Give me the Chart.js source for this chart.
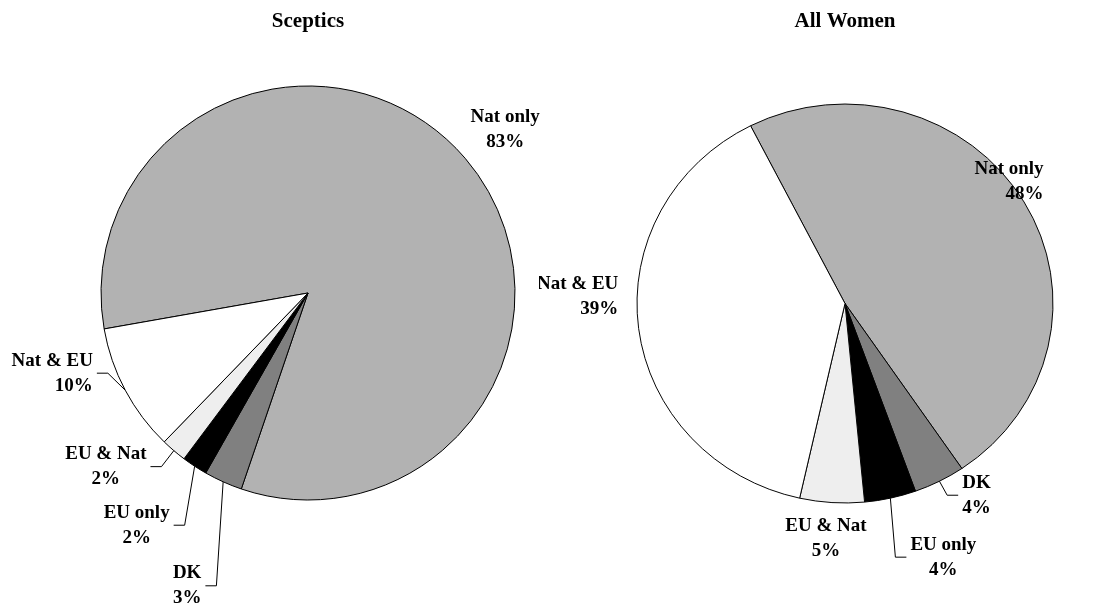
<!DOCTYPE html>
<html>
<head>
<meta charset="utf-8">
<script src="https://cdn.jsdelivr.net/npm/chart.js@4/dist/chart.umd.min.js"></script>
<style>
    body { margin: 0; background: #fff; width: 1104px; height: 608px; overflow: hidden; position: relative; }
    canvas { position: absolute; top: 0; }
    #scepticsChart { left: 0; }
    #womenChart { left: 539px; }
</style>
</head>
<body>
<canvas id="scepticsChart" width="545" height="608"></canvas>
<canvas id="womenChart" width="565" height="608"></canvas>
<script>
// data
const categories = ["Nat only", "DK", "EU only", "EU & Nat", "Nat & EU"];
const scepticsValues = [83, 3, 2, 2, 10];
const allWomenValues = [48, 4, 4, 5, 39];
const chartTitles = ["Sceptics", "All Women"];

const sliceColors = ["#b2b2b2", "#808080", "#000000", "#eeeeee", "#ffffff"];
const fontFamily = "'Liberation Serif', 'Times New Roman', serif";

// label placement, offset from the slice's outer edge at its mid angle
const scepticsLabelLayout = [
    { dx: 40, dy: -29, align: "center", leader: false },
    { dx: -36, dy: 104, align: "center", leader: true },
    { dx: -58, dy: 59, align: "center", leader: true },
    { dx: -68, dy: 16, align: "center", leader: true },
    { dx: -73, dy: -17, align: "right", leader: true }
];
const womenLabelLayout = [
    { dx: -15, dy: -20, align: "right", leader: false },
    { dx: 37, dy: 14, align: "center", leader: true },
    { dx: 53, dy: 59, align: "center", leader: true },
    { dx: -6, dy: 36, align: "center", leader: false },
    { dx: -61, dy: -32, align: "right", leader: false }
];

// the original pies are slightly squashed, this stretches them vertically
const ellipsePlugin = {
    id: "ellipse",
    beforeDatasetsDraw(chart, args, opts) {
        const p = chart.getDatasetMeta(0).data[0];
        chart.ctx.save();
        chart.ctx.translate(p.x, p.y);
        chart.ctx.scale(1, opts.scaleY);
        chart.ctx.translate(-p.x, -p.y);
    },
    afterDatasetsDraw(chart) {
        chart.ctx.restore();
    }
};

const pieLabelsPlugin = {
    id: "pieLabels",
    afterDraw(chart, args, opts) {
        const ctx = chart.ctx;
        const meta = chart.getDatasetMeta(0);
        const values = chart.data.datasets[0].data;
        const scaleY = chart.options.plugins.ellipse.scaleY;
        const lineH = 25;
        ctx.save();

        // title
        const first = meta.data[0].getProps(["x", "y"], true);
        ctx.fillStyle = "#000";
        ctx.font = "bold 21px " + fontFamily;
        ctx.textAlign = "center";
        ctx.textBaseline = "middle";
        ctx.fillText(opts.title, first.x, 22);

        ctx.font = "bold 19px " + fontFamily;
        ctx.strokeStyle = "#000";
        ctx.lineWidth = 1;
        meta.data.forEach((arc, i) => {
            const p = arc.getProps(["x", "y", "startAngle", "endAngle", "outerRadius"], true);
            const mid = (p.startAngle + p.endAngle) / 2;
            const ex = p.x + Math.cos(mid) * p.outerRadius;
            const ey = p.y + Math.sin(mid) * p.outerRadius * scaleY;
            const lay = opts.layout[i];
            const cx = ex + lay.dx;
            const cy = ey + lay.dy;
            const lines = [chart.data.labels[i], values[i] + "%"];
            const boxW = Math.max(...lines.map(t => ctx.measureText(t).width));

            if (lay.leader) {
                const toLeft = cx < ex;
                const side = toLeft ? cx + boxW / 2 : cx - boxW / 2;
                const dir = toLeft ? 1 : -1;
                ctx.beginPath();
                ctx.moveTo(ex, ey);
                ctx.lineTo(side + dir * 15, cy);
                ctx.lineTo(side + dir * 4, cy);
                ctx.stroke();
            }

            ctx.textAlign = lay.align;
            const tx = lay.align === "right" ? cx + boxW / 2 : cx;
            ctx.fillText(lines[0], tx, cy - lineH / 2);
            ctx.fillText(lines[1], tx, cy + lineH / 2);
        });
        ctx.restore();
    }
};

function makePie(canvasId, values, title, layout, rotation, radius, scaleY, padding) {
    const ctx = document.getElementById(canvasId).getContext("2d");
    return new Chart(ctx, {
        type: "pie",
        data: {
            labels: categories,
            datasets: [{
                data: values,
                backgroundColor: sliceColors,
                borderColor: "#000",
                borderWidth: 1,
                hoverOffset: 0,
                radius: radius
            }]
        },
        options: {
            responsive: false,
            animation: false,
            events: [],
            rotation: rotation,
            layout: { padding: padding },
            plugins: {
                legend: { display: false },
                tooltip: { enabled: false },
                ellipse: { scaleY: scaleY },
                pieLabels: { title: title, layout: layout }
            }
        },
        plugins: [ellipsePlugin, pieLabelsPlugin]
    });
}

makePie("scepticsChart", scepticsValues, chartTitles[0], scepticsLabelLayout, -100, 207, 1,
    { left: 101, right: 30, top: 86, bottom: 108 });
makePie("womenChart", allWomenValues, chartTitles[1], womenLabelLayout, -27, 208, 0.959,
    { left: 98, right: 51, top: 95, bottom: 96 });
</script>
</body>
</html>
